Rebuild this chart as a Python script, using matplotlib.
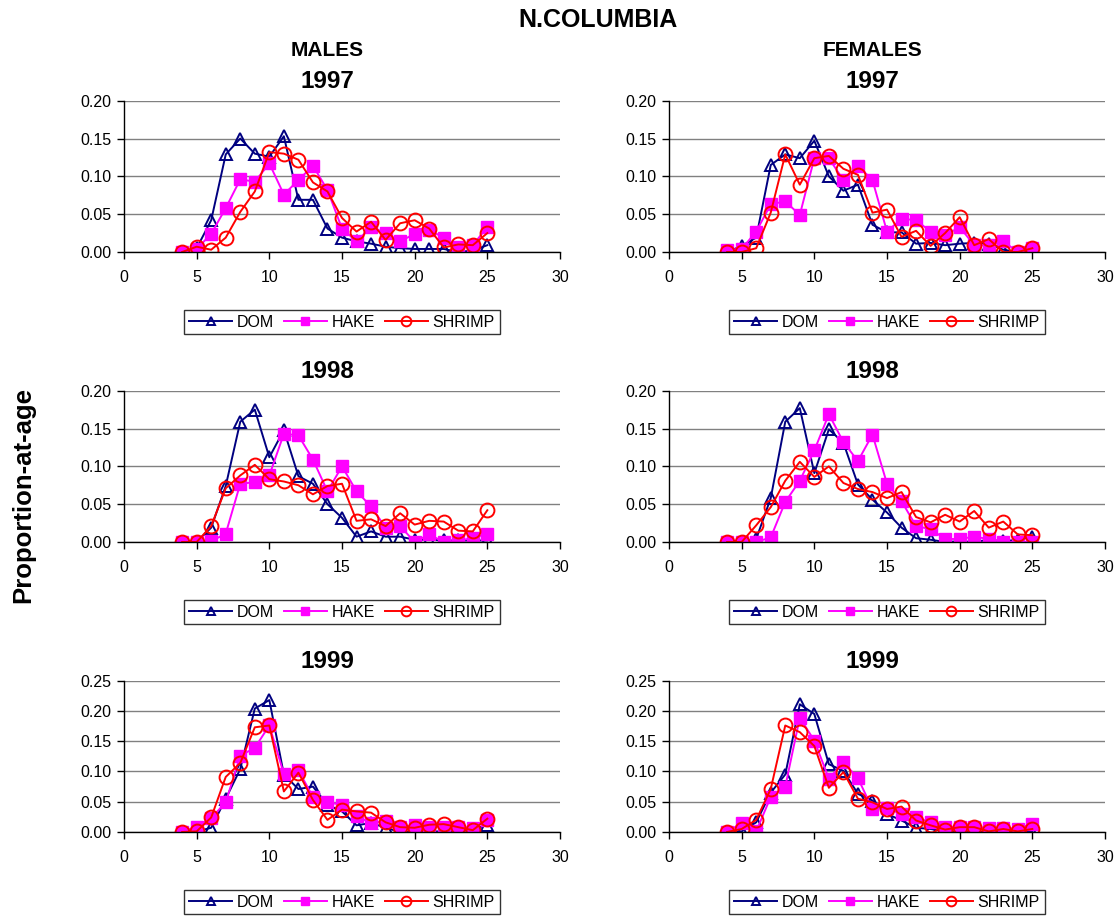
import matplotlib
matplotlib.use('Agg')
import matplotlib.pyplot as plt
from matplotlib.ticker import FormatStrFormatter

plt.rcParams['font.family'] = ['Liberation Sans', 'DejaVu Sans']

ages = list(range(4, 26))

# proportion-at-age, ages 4..25
male_1997_dom = [0.000, 0.005, 0.042, 0.129, 0.150, 0.130, 0.126, 0.153, 0.069, 0.069, 0.031, 0.019,
                 0.014, 0.011, 0.007, 0.005, 0.004, 0.004, 0.004, 0.000, 0.002, 0.009]
male_1997_hake = [0.000, 0.004, 0.024, 0.058, 0.096, 0.093, 0.117, 0.076, 0.095, 0.114, 0.082, 0.031,
                  0.014, 0.033, 0.025, 0.014, 0.024, 0.029, 0.019, 0.007, 0.009, 0.033]
male_1997_shrimp = [0.000, 0.007, 0.003, 0.019, 0.053, 0.080, 0.132, 0.130, 0.122, 0.092, 0.080, 0.045,
                    0.027, 0.040, 0.016, 0.038, 0.042, 0.031, 0.006, 0.010, 0.009, 0.025]

female_1997_dom = [0.000, 0.008, 0.019, 0.115, 0.129, 0.124, 0.147, 0.100, 0.081, 0.089, 0.036, 0.026,
                   0.026, 0.011, 0.012, 0.009, 0.011, 0.012, 0.011, 0.003, 0.000, 0.000]
female_1997_hake = [0.003, 0.004, 0.027, 0.063, 0.067, 0.049, 0.124, 0.124, 0.095, 0.114, 0.095, 0.027,
                    0.044, 0.042, 0.027, 0.022, 0.033, 0.009, 0.009, 0.014, 0.000, 0.005]
female_1997_shrimp = [0.000, 0.000, 0.005, 0.052, 0.129, 0.089, 0.124, 0.127, 0.110, 0.102, 0.052, 0.056,
                      0.020, 0.028, 0.008, 0.025, 0.046, 0.009, 0.017, 0.000, 0.000, 0.005]

male_1998_dom = [0.000, 0.000, 0.019, 0.074, 0.159, 0.175, 0.112, 0.148, 0.087, 0.077, 0.050, 0.032,
                 0.007, 0.014, 0.007, 0.007, 0.003, 0.003, 0.002, 0.002, 0.002, 0.002]
male_1998_hake = [0.000, 0.000, 0.001, 0.011, 0.077, 0.079, 0.088, 0.143, 0.141, 0.109, 0.067, 0.100,
                  0.067, 0.047, 0.019, 0.021, 0.000, 0.010, 0.000, 0.002, 0.005, 0.011]
male_1998_shrimp = [0.000, 0.000, 0.021, 0.071, 0.088, 0.102, 0.083, 0.080, 0.075, 0.063, 0.074, 0.077,
                    0.028, 0.030, 0.021, 0.038, 0.023, 0.028, 0.027, 0.015, 0.014, 0.042]

female_1998_dom = [0.000, 0.000, 0.004, 0.058, 0.159, 0.177, 0.091, 0.149, 0.131, 0.076, 0.056, 0.039,
                   0.019, 0.005, 0.003, 0.000, 0.001, 0.000, 0.003, 0.001, 0.003, 0.007]
female_1998_hake = [0.000, 0.000, 0.000, 0.006, 0.053, 0.081, 0.121, 0.169, 0.132, 0.107, 0.142, 0.077,
                    0.054, 0.021, 0.017, 0.004, 0.004, 0.007, 0.004, 0.000, 0.000, 0.000]
female_1998_shrimp = [0.000, 0.000, 0.022, 0.046, 0.081, 0.106, 0.086, 0.100, 0.078, 0.070, 0.066, 0.058,
                      0.066, 0.033, 0.026, 0.036, 0.027, 0.041, 0.019, 0.027, 0.010, 0.009]

male_1999_dom = [0.000, 0.001, 0.007, 0.055, 0.104, 0.204, 0.218, 0.095, 0.071, 0.075, 0.045, 0.034,
                 0.011, 0.015, 0.007, 0.000, 0.001, 0.001, 0.001, 0.001, 0.004, 0.012]
male_1999_hake = [0.000, 0.009, 0.023, 0.049, 0.126, 0.139, 0.176, 0.096, 0.102, 0.058, 0.049, 0.045,
                  0.026, 0.015, 0.018, 0.008, 0.011, 0.009, 0.009, 0.008, 0.007, 0.020]
male_1999_shrimp = [0.000, 0.001, 0.024, 0.091, 0.114, 0.173, 0.176, 0.067, 0.098, 0.053, 0.020, 0.037,
                    0.034, 0.032, 0.016, 0.008, 0.007, 0.012, 0.013, 0.008, 0.003, 0.022]

female_1999_dom = [0.000, 0.001, 0.016, 0.065, 0.095, 0.211, 0.195, 0.112, 0.101, 0.063, 0.052, 0.030,
                   0.019, 0.007, 0.005, 0.001, 0.001, 0.000, 0.000, 0.001, 0.001, 0.000]
female_1999_hake = [0.000, 0.015, 0.001, 0.058, 0.075, 0.189, 0.151, 0.088, 0.115, 0.089, 0.038, 0.040,
                    0.029, 0.024, 0.016, 0.009, 0.008, 0.008, 0.007, 0.007, 0.005, 0.014]
female_1999_shrimp = [0.000, 0.005, 0.020, 0.071, 0.176, 0.165, 0.142, 0.073, 0.099, 0.055, 0.049, 0.038,
                      0.042, 0.019, 0.011, 0.004, 0.008, 0.008, 0.001, 0.005, 0.001, 0.005]

years = ['1997', '1998', '1999']
ymax = [0.20, 0.20, 0.25]
panels = {
    ('M', 0): (male_1997_dom, male_1997_hake, male_1997_shrimp),
    ('F', 0): (female_1997_dom, female_1997_hake, female_1997_shrimp),
    ('M', 1): (male_1998_dom, male_1998_hake, male_1998_shrimp),
    ('F', 1): (female_1998_dom, female_1998_hake, female_1998_shrimp),
    ('M', 2): (male_1999_dom, male_1999_hake, male_1999_shrimp),
    ('F', 2): (female_1999_dom, female_1999_hake, female_1999_shrimp),
}

W, H = 1118, 917
fig = plt.figure(figsize=(W / 100, H / 100), dpi=100)

lefts = {'M': 124, 'F': 669}
title_x = {'M': 327, 'F': 872}
tops = [100.7, 390.7, 680.7]
ax_w, ax_h = 436, 151.3

for (sex, row), (dom, hake, shrimp) in panels.items():
    ax = fig.add_axes([lefts[sex] / W, 1 - (tops[row] + ax_h) / H, ax_w / W, ax_h / H])
    ax.plot(ages, dom, color='#000080', lw=1.4, marker='^', ms=8.5, mfc='none', mec='#000080', mew=1.4,
            label='DOM')
    ax.plot(ages, hake, color='#FF00FF', lw=1.4, marker='s', ms=8.5, mfc='#FF00FF', mec='#FF00FF',
            label='HAKE')
    ax.plot(ages, shrimp, color='#FF0000', lw=1.4, marker='o', ms=10, mfc='none', mec='#FF0000', mew=1.4,
            label='SHRIMP')
    ax.set_xlim(0, 30)
    ax.set_ylim(0, ymax[row])
    ax.set_xticks(range(0, 31, 5))
    step = 0.05
    ax.set_yticks([i * step for i in range(int(round(ymax[row] / step)) + 1)])
    ax.yaxis.set_major_formatter(FormatStrFormatter('%.2f'))
    ax.grid(axis='y', color='#808080', lw=1)
    ax.set_axisbelow(True)
    for s in ['top', 'right']:
        ax.spines[s].set_visible(False)
    for s in ['left', 'bottom']:
        ax.spines[s].set_color('black')
        ax.spines[s].set_linewidth(1)
    ax.tick_params(direction='out', length=5, width=1, labelsize=11.5, pad=4)
    ax.tick_params(axis='x', pad=8)
    ax.patch.set_alpha(0)
    leg = ax.legend(loc='center', bbox_to_anchor=(0.5, -0.463), ncol=3, fontsize=11.5, frameon=True,
                    fancybox=False, edgecolor='black', handlelength=2.7, handletextpad=0.3,
                    columnspacing=0.6, borderpad=0.3, markerscale=0.7)
    leg.get_frame().set_linewidth(1)
    # year title
    fig.text(title_x[sex] / W, 1 - (tops[row] - 13) / H, years[row], ha='center', va='baseline',
             fontsize=17.5, fontweight='bold')

fig.text(598 / W, 1 - 27 / H, 'N.COLUMBIA', ha='center', va='baseline', fontsize=18, fontweight='bold')
fig.text(title_x['M'] / W, 1 - 56 / H, 'MALES', ha='center', va='baseline', fontsize=15,
         fontweight='bold')
fig.text(title_x['F'] / W, 1 - 56 / H, 'FEMALES', ha='center', va='baseline', fontsize=15,
         fontweight='bold')
fig.text(23 / W, 1 - 495 / H, 'Proportion-at-age', rotation=90, ha='center', va='center',
         fontsize=18.5, fontweight='bold')

fig.savefig('out.png', dpi=100)
